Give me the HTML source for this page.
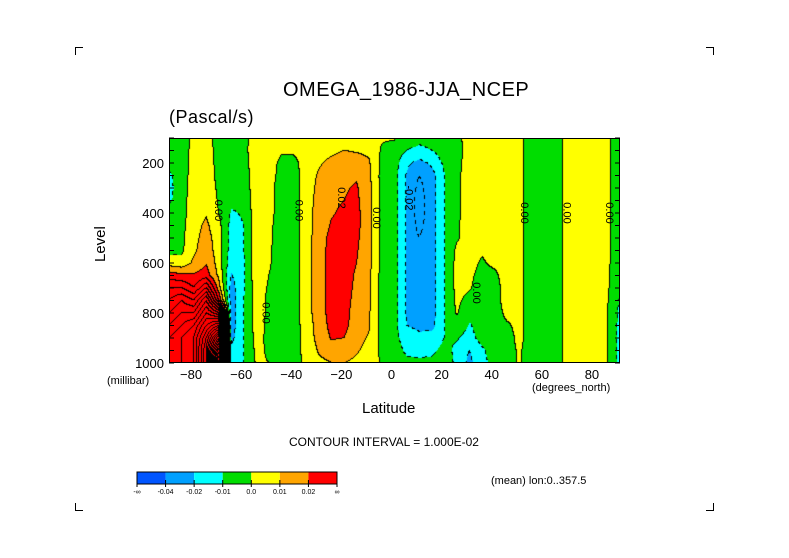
<!DOCTYPE html>
<html><head><meta charset="utf-8"><style>
body{margin:0;background:#fff;width:789px;height:558px;overflow:hidden;position:relative;font-family:"Liberation Sans",sans-serif;}
.t{position:absolute;white-space:nowrap;color:#000;}
.c{position:absolute;width:7px;height:7px;}
</style></head><body>
<div class="c" style="left:75px;top:47px;border-left:1px solid #000;border-top:1px solid #000"></div>
<div class="c" style="left:706px;top:47px;border-right:1px solid #000;border-top:1px solid #000"></div>
<div class="c" style="left:75px;top:503px;border-left:1px solid #000;border-bottom:1px solid #000"></div>
<div class="c" style="left:706px;top:503px;border-right:1px solid #000;border-bottom:1px solid #000"></div>
<div class="t" style="left:283px;top:79px;font-size:20px;letter-spacing:0.5px">OMEGA_1986-JJA_NCEP</div>
<div class="t" style="left:169px;top:107px;font-size:18px;letter-spacing:0.5px">(Pascal/s)</div>
<div class="t" style="left:92px;top:262px;font-size:15px;transform:rotate(-90deg);transform-origin:0 0">Level</div>
<div class="t" style="left:362px;top:400px;font-size:15px">Latitude</div>
<div class="t" style="left:107px;top:375px;font-size:11px">(millibar)</div>
<div class="t" style="left:532px;top:382px;font-size:11px">(degrees_north)</div>
<div class="t" style="left:289px;top:435px;font-size:12px">CONTOUR INTERVAL = 1.000E-02</div>
<div class="t" style="left:491px;top:475px;font-size:11px">(mean) lon:0..357.5</div>
<svg id="svg" width="789" height="558" style="position:absolute;left:0;top:0"></svg>
<canvas id="cv" width="451" height="225" style="position:absolute;left:169px;top:138px"></canvas>
<svg id="ov" width="789" height="558" style="position:absolute;left:0;top:0"></svg>
<script>
const lats=[-90,-85,-80,-75,-70,-65,-60,-55,-50,-45,-40,-35,-30,-25,-20,-15,-10,-5,0,5,10,15,20,25,30,35,40,45,50,55,60,65,70,75,80,85,90];
const levels=[100,150,200,250,300,350,400,450,500,550,600,650,700,750,800,850,900,950,1000];
const SCALE=0.01;
// omega (hundredths of Pa/s), one array per latitude, ordered by level
const omega=[
[-0.5,-0.5,-0.5,-1.2,-1.3,-1.2,-0.5,-0.5,-0.5,-0.3,0.5,2.5,4,5,6,7,8,8,8],
[-0.5,-0.5,-0.5,-0.5,-0.5,-0.4,-0.4,-0.3,-0.3,-0.2,0.3,2.2,4,6,7,8,9,9,9],
[0.2,0.3,0.3,0.4,0.4,0.5,0.5,0.6,0.7,0.8,1.2,2.1,3,5,7,9,10,10,10],
[0.3,0.4,0.5,0.6,0.7,0.8,0.9,1.2,1.4,1.6,1.9,2.5,5,8,10,12,14,15,15],
[-0.3,-0.3,-0.3,-0.3,-0.2,-0.1,0,0.3,0.5,0.5,0.6,0.8,1.5,3,8,14,20,25,28],
[-0.5,-0.5,-0.5,-0.6,-0.7,-0.8,-1.1,-1.3,-1.4,-1.5,-1.7,-2.1,-2.4,-2.5,-2.5,-2.5,-2.3,-1.8,-1.5],
[-0.3,-0.3,-0.4,-0.5,-0.6,-0.7,-0.9,-1.0,-1.0,-1.0,-1.1,-1.1,-1.1,-1.0,-1.0,-1.0,-1.0,-1.0,-1.0],
[0.5,0.6,0.6,0.6,0.6,0.6,0.6,0.6,0.6,0.6,0.6,0.6,0.5,0.5,0.5,0.4,0.3,0.2,0.1],
[0.5,0.5,0.4,0.4,0.3,0.3,0.3,0.2,0.2,0.1,0.1,0,-0.1,-0.2,-0.2,-0.2,-0.2,-0.1,0],
[0.3,0.1,-0.2,-0.3,-0.4,-0.4,-0.4,-0.4,-0.4,-0.4,-0.4,-0.4,-0.4,-0.4,-0.4,-0.4,-0.4,-0.4,-0.4],
[0.3,0.2,-0.3,-0.5,-0.5,-0.5,-0.5,-0.5,-0.5,-0.5,-0.5,-0.5,-0.5,-0.5,-0.5,-0.5,-0.5,-0.5,-0.5],
[0.4,0.4,0.5,0.6,0.6,0.6,0.6,0.6,0.6,0.6,0.6,0.6,0.6,0.6,0.6,0.5,0.5,0.4,0.3],
[0.5,0.7,0.9,1.1,1.2,1.3,1.4,1.4,1.5,1.5,1.5,1.5,1.5,1.5,1.5,1.4,1.3,1.1,0.8],
[0.6,0.8,1.2,1.5,1.7,1.8,1.9,2.1,2.3,2.4,2.5,2.5,2.5,2.4,2.4,2.3,2.1,1.5,1.0],
[0.7,1.0,1.4,1.7,1.9,2.0,2.2,2.4,2.6,2.7,2.7,2.7,2.6,2.5,2.4,2.3,2.0,1.5,1.0],
[0.6,0.9,1.4,1.9,2.1,2.2,2.3,2.3,2.2,2.1,2.0,1.8,1.7,1.6,1.5,1.5,1.3,1.1,0.8],
[0.5,0.8,1.1,1.2,1.3,1.3,1.3,1.3,1.3,1.3,1.3,1.2,1.2,1.2,1.1,1.1,0.9,0.7,0.5],
[0.1,-0.1,-0.2,-0.3,-0.3,-0.3,-0.3,-0.3,-0.3,-0.3,-0.3,-0.3,-0.3,-0.3,-0.3,-0.3,-0.3,-0.2,-0.1],
[0.1,-0.4,-0.5,-0.6,-0.6,-0.6,-0.6,-0.6,-0.6,-0.6,-0.6,-0.6,-0.6,-0.6,-0.6,-0.6,-0.6,-0.5,-0.4],
[-0.5,-1.0,-1.8,-2.1,-2.1,-2.1,-2.1,-2.1,-2.1,-2.1,-2.1,-2.1,-2.1,-2.1,-2.1,-2.0,-1.6,-1.2,-0.8],
[-0.6,-1.3,-2.3,-3.0,-3.3,-3.5,-3.5,-3.3,-3.0,-2.8,-2.7,-2.6,-2.6,-2.5,-2.4,-2.2,-1.8,-1.3,-0.8],
[-0.5,-1.0,-1.8,-2.4,-2.4,-2.4,-2.4,-2.4,-2.4,-2.4,-2.4,-2.4,-2.4,-2.4,-2.4,-2.3,-1.6,-1.2,-0.8],
[-0.3,-0.5,-0.8,-1.05,-1.05,-1.05,-1.05,-1.05,-1.05,-1.05,-1.05,-1.05,-1.05,-1.05,-1.05,-1.05,-1.0,-0.7,-0.5],
[-0.2,-0.2,-0.2,-0.2,-0.2,-0.2,-0.2,-0.1,-0.1,0.2,0.3,0.3,0.3,0.2,0.1,-0.3,-0.9,-1.2,-1.2],
[0.3,0.2,0.3,0.4,0.4,0.4,0.4,0.4,0.3,0.3,0.3,0.2,0.1,-0.3,-0.7,-1.1,-1.4,-2.0,-2.3],
[0.5,0.5,0.5,0.5,0.5,0.5,0.5,0.4,0.3,0.1,-0.1,-0.3,-0.4,-0.4,-0.5,-0.5,-0.6,-1.2,-1.2],
[0.5,0.5,0.5,0.5,0.5,0.5,0.5,0.5,0.4,0.3,0.2,-0.2,-0.3,-0.3,-0.4,-0.4,-0.4,-0.5,-0.8],
[0.5,0.5,0.5,0.5,0.5,0.5,0.5,0.5,0.5,0.5,0.4,0.4,0.3,0.3,0.2,-0.1,-0.3,-0.3,-0.3],
[0.2,0.2,0.2,0.2,0.2,0.2,0.2,0.2,0.2,0.2,0.2,0.2,0.2,0.2,0.2,0.2,0.2,0.1,0.1],
[-0.4,-0.4,-0.4,-0.4,-0.4,-0.4,-0.4,-0.4,-0.4,-0.4,-0.4,-0.4,-0.4,-0.4,-0.4,-0.4,-0.4,-0.4,-0.4],
[-0.4,-0.4,-0.4,-0.4,-0.4,-0.4,-0.4,-0.4,-0.4,-0.4,-0.4,-0.4,-0.4,-0.4,-0.4,-0.4,-0.4,-0.4,-0.4],
[-0.3,-0.3,-0.3,-0.3,-0.3,-0.3,-0.3,-0.3,-0.3,-0.3,-0.3,-0.3,-0.3,-0.3,-0.3,-0.3,-0.3,-0.3,-0.3],
[0.4,0.4,0.4,0.4,0.4,0.4,0.4,0.4,0.4,0.4,0.4,0.4,0.4,0.4,0.4,0.4,0.4,0.4,0.4],
[0.4,0.4,0.4,0.4,0.4,0.4,0.4,0.4,0.4,0.4,0.3,0.2,0.3,0.4,0.4,0.4,0.4,0.4,0.4],
[0.3,0.3,0.3,0.3,0.3,0.3,0.3,0.3,0.3,0.3,0.3,0.3,0.3,0.3,0.3,0.3,0.3,0.3,0.3],
[0.1,0.1,0.1,0.1,0.1,0.1,0.1,0.1,0.1,0.1,0.1,0.1,0.1,0.1,0.1,0.1,0.1,0.1,0.1],
[-0.3,-0.3,-0.3,-0.3,-0.3,-0.3,-0.3,-0.3,-0.3,-0.3,-0.3,-0.5,-0.5,-1.1,-1.2,-1.3,-1.3,-1.3,-1.3]
];
const xTicks=[-80,-60,-40,-20,0,20,40,60,80];
const yTicks=[200,400,600,800,1000];
const cbLabels=["-∞","-0.04","-0.02","-0.01","0.0","0.01","0.02","∞"];
const cbColors=["#0055ff","#00a0ff","#00ffff","#00dd00","#ffff00","#ffa500","#ff0000"];
const contourLabels=[{lat:-70,p:390,t:"0.00"},{lat:-38,p:390,t:"0.00"},{lat:-21,p:340,t:"0.02"},{lat:-7,p:420,t:"0.00"},{lat:6,p:340,t:"-0.02"},{lat:33,p:720,t:"0.00"},{lat:52,p:400,t:"0.00"},{lat:69,p:400,t:"0.00"},{lat:86,p:400,t:"0.00"},{lat:-51,p:800,t:"0.00"}];

const PX0=169,PY0=138,PW=451,PH=225;
const xOf=lat=>PX0+(lat+90)*PW/180;
const yOf=p=>PY0+(p-100)*PH/900;
function val(lat,p){
  let fi=(lat-lats[0])/5, fj=(p-levels[0])/50;
  fi=Math.max(0,Math.min(lats.length-1.0001,fi)); fj=Math.max(0,Math.min(levels.length-1.0001,fj));
  const i=Math.floor(fi),j=Math.floor(fj),a=fi-i,b=fj-j;
  const v=omega[i][j]*(1-a)*(1-b)+omega[i+1][j]*a*(1-b)+omega[i][j+1]*(1-a)*b+omega[i+1][j+1]*a*b;
  return v*SCALE;
}
function colorIdx(v){const u=v/SCALE;if(u<-4)return 0;if(u<-2)return 1;if(u<-1)return 2;if(u<0)return 3;if(u<1)return 4;if(u<2)return 5;return 6;}
const rgb=cbColors.map(h=>[parseInt(h.substr(1,2),16),parseInt(h.substr(3,2),16),parseInt(h.substr(5,2),16)]);
const cv=document.getElementById('cv'),ctx=cv.getContext('2d');
const img=ctx.createImageData(PW,PH);
const V=[];
for(let y=0;y<PH;y++){V.push([]);for(let x=0;x<PW;x++){const lat=-90+(x+0.5)*180/PW,p=100+(y+0.5)*900/PH;V[y].push(val(lat,p));}}
for(let y=0;y<PH;y++)for(let x=0;x<PW;x++){
  const v=V[y][x];let c=rgb[colorIdx(v)];
  const k=Math.floor(v/SCALE+1e-9);
  let line=false;
  if(x+1<PW&&Math.floor(V[y][x+1]/SCALE+1e-9)!==k)line=true;
  if(y+1<PH&&Math.floor(V[y+1][x]/SCALE+1e-9)!==k)line=true;
  if(line){const lvl=Math.max(k,Math.floor((x+1<PW?V[y][x+1]:v)/SCALE));
    if(!(lvl<0&&((x+y)>>2)%2===1))c=[0,0,0];}
  const o=(y*PW+x)*4;img.data[o]=c[0];img.data[o+1]=c[1];img.data[o+2]=c[2];img.data[o+3]=255;
}
ctx.putImageData(img,0,0);
const NS="http://www.w3.org/2000/svg";
const ov=document.getElementById('ov');
function mk(tag,attrs,parent){const e=document.createElementNS(NS,tag);for(const k in attrs)e.setAttribute(k,attrs[k]);(parent||ov).appendChild(e);return e;}
const frame=mk('rect',{x:PX0+0.5,y:PY0+0.5,width:PW-1,height:PH-1,fill:'none',stroke:'#000'});


for(let p=100;p<=1000;p+=50){
  const t1=mk('line',{x1:PX0,x2:PX0+5,y1:yOf(p),y2:yOf(p),stroke:'#000'});
  
  
  const t2=mk('line',{x1:PX0+PW-5,x2:PX0+PW,y1:yOf(p),y2:yOf(p),stroke:'#000'});
  
  
}
xTicks.forEach(l=>{
  const t=mk('text',{x:xOf(l)-3,y:379,'font-size':13,'text-anchor':'middle','font-family':'Liberation Sans, sans-serif'});
  t.textContent=(l<0?'−':'')+Math.abs(l);
  
  
});
yTicks.forEach(p=>{
  const t=mk('text',{x:164,y:yOf(p)+5,'font-size':13,'text-anchor':'end','font-family':'Liberation Sans, sans-serif'});
  t.textContent=p;
  
  
});
contourLabels.forEach(c=>{
  const x=xOf(c.lat),y=yOf(c.p);
  const t=mk('text',{x:x,y:y,'font-size':11,'text-anchor':'middle','font-family':'Liberation Sans, sans-serif',transform:`rotate(90 ${x} ${y})`,dy:4});
  t.textContent=c.t;
  
  
});
const cbX=137,cbY=472,cbW=200/7;
cbColors.forEach((col,i)=>{
  const r=mk('rect',{x:cbX+i*cbW,y:cbY,width:cbW,height:12,fill:col});
  
  
});
const cbf=mk('rect',{x:cbX,y:cbY,width:200,height:12,fill:'none',stroke:'#000'});


cbLabels.forEach((s,i)=>{
  mk('line',{x1:cbX+i*cbW,x2:cbX+i*cbW,y1:cbY+8,y2:cbY+15,stroke:'#000'});
  const t=mk('text',{x:cbX+i*cbW,y:cbY+22,'font-size':7,'text-anchor':'middle','font-family':'Liberation Sans, sans-serif'});
  t.textContent=s;
  
  
});
</script>
</body></html>
